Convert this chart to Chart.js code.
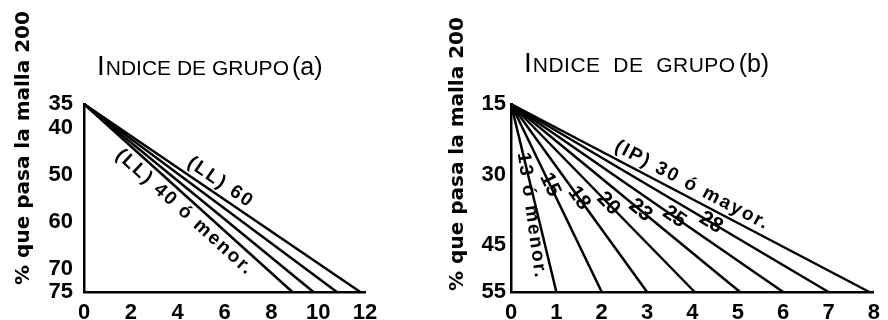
<!DOCTYPE html>
<html><head><meta charset="utf-8">
<script src="https://cdn.jsdelivr.net/npm/chart.js@4.4.0/dist/chart.umd.min.js"></script>
<style>
html,body{margin:0;padding:0;background:#fff;}
#wrap{position:relative;width:888px;height:320px;background:#fff;}
.box{position:absolute;top:0;width:444px;height:320px;}
#ba{left:0}
#bb{left:444px}
</style></head><body>
<div id="wrap"><div class="box" id="ba"><canvas id="ca"></canvas></div><div class="box" id="bb"><canvas id="cb"></canvas></div></div>
<script>
// ---------- Panel (a): Indice de grupo (a) ----------
const xTicksA = [0, 2, 4, 6, 8, 10, 12];
const yTicksA = [35, 40, 50, 60, 70, 75];
const startA = 35;            // % passing No.200 where all lines start (x = 0)
const endYA = 75;             // % passing No.200 where lines reach the index axis
const endsA = [8.9, 9.8, 10.8, 11.8];   // index value reached at 75 %
const namesA = ['(LL) 40 ó menor.', '(LL) 45', '(LL) 50', '(LL) 60'];

// ---------- Panel (b): Indice de grupo (b) ----------
const xTicksB = [0, 1, 2, 3, 4, 5, 6, 7, 8];
const yTicksB = [15, 30, 45, 55];
const startB = 15;
const endYB = 55;
const endsB = [1, 2, 3, 4.05, 5.05, 6, 7, 7.9];
const namesB = ['13 ó menor.', '15', '18', '20', '23', '25', '28', '(IP) 30 ó mayor.'];

const BLACK = '#000';
const tickFont = {family: 'Liberation Sans', size: 22, weight: 'bold'};

function makeDatasets(ends, y0, y1, names) {
  return ends.map((e, i) => ({
    label: names[i],
    data: [{x: 0, y: y0}, {x: e, y: y1}],
    borderColor: BLACK,
    borderWidth: 2.5,
    pointRadius: 0,
    fill: false,
    tension: 0,
    clip: 6
  }));
}

const decor = {
  id: 'decor',
  afterDatasetsDraw(chart, args, opts) {
    const ctx = chart.ctx;
    ctx.save();
    ctx.fillStyle = BLACK;
    // labels along the lines
    for (const it of opts.labels) {
      const meta = chart.getDatasetMeta(it.ds);
      const p0 = meta.data[0], p1 = meta.data[1];
      const ang = Math.atan2(p1.y - p0.y, p1.x - p0.x);
      const px = p0.x + it.t * (p1.x - p0.x);
      const py = p0.y + it.t * (p1.y - p0.y);
      const cx = px + it.off * Math.sin(ang);
      const cy = py - it.off * Math.cos(ang);
      ctx.save();
      ctx.translate(cx, cy);
      ctx.rotate(it.angle != null ? it.angle * Math.PI / 180 : ang);
      ctx.font = it.font || opts.labelFont;
      ctx.letterSpacing = it.spacing || opts.labelSpacing;
      ctx.textAlign = 'center';
      ctx.textBaseline = 'middle';
      ctx.fillText(it.text, 0, 0);
      ctx.restore();
    }
    // panel title
    let x = opts.title.x;
    for (const p of opts.title.parts) {
      ctx.font = p.font;
      ctx.letterSpacing = p.spacing || '0px';
      ctx.textAlign = 'left';
      ctx.textBaseline = 'alphabetic';
      ctx.fillText(p.text, x, opts.title.y);
      x += ctx.measureText(p.text).width + (p.gap || 0);
    }
    // vertical axis title
    ctx.save();
    ctx.translate(opts.ytitle.cx, opts.ytitle.cy);
    ctx.rotate(-Math.PI / 2);
    ctx.font = opts.ytitle.font;
    ctx.letterSpacing = '0px';
    ctx.textAlign = 'center';
    ctx.textBaseline = 'middle';
    ctx.fillText(opts.ytitle.text, 0, 0);
    ctx.restore();
    ctx.restore();
  }
};

function axisX(min, max, ticks, pad) {
  return {
    type: 'linear', min: min, max: max,
    afterBuildTicks: s => { s.ticks = ticks.map(v => ({value: v})); },
    afterFit: s => { s.height = 28; },
    grid: {display: false, drawTicks: false},
    border: {display: true, color: BLACK, width: 2.5},
    ticks: {color: BLACK, font: tickFont, padding: pad, autoSkip: false, maxRotation: 0, minRotation: 0}
  };
}
function axisY(min, max, ticks, pad, width) {
  return {
    type: 'linear', min: min, max: max, reverse: true,
    afterBuildTicks: s => { s.ticks = ticks.map(v => ({value: v})); },
    afterFit: s => { s.width = width; },
    grid: {display: false, drawTicks: false},
    border: {display: true, color: BLACK, width: 2.5},
    ticks: {color: BLACK, font: tickFont, padding: pad, autoSkip: false}
  };
}

const commonPlugins = {legend: {display: false}, tooltip: {enabled: false}, title: {display: false}};
const numFont = 'bold 21px "Liberation Sans"';

new Chart(document.getElementById('ca'), {
  type: 'line',
  data: {datasets: makeDatasets(endsA, startA, endYA, namesA)},
  options: {
    responsive: true, maintainAspectRatio: false, animation: false,
    layout: {padding: {left: 0, top: 104, right: 79, bottom: 0}},
    scales: {x: axisX(0, 12, xTicksA, 8), y: axisY(35, 75, yTicksA, 11, 84)},
    plugins: Object.assign({}, commonPlugins, {
      decor: {
        labelFont: 'bold 19px "Liberation Sans"',
        labelSpacing: '2px',
        labels: [
          {ds: 3, t: 0.47, off: 12, text: namesA[3]},
          {ds: 0, t: 0.525, off: -13, text: namesA[0]}
        ],
        title: {x: 97, y: 75, parts: [
          {text: 'I', font: '28px "Liberation Sans"', gap: 1},
          {text: 'NDICE DE GRUPO', font: '21px "Liberation Sans"', spacing: '0px', gap: 3},
          {text: '(a)', font: '25px "Liberation Sans"'}
        ]},
        ytitle: {text: '% que pasa la malla 200', cx: 24, cy: 148, font: 'bold 20px "DejaVu Sans"'}
      }
    })
  },
  plugins: [decor]
});

new Chart(document.getElementById('cb'), {
  type: 'line',
  data: {datasets: makeDatasets(endsB, startB, endYB, namesB)},
  options: {
    responsive: true, maintainAspectRatio: false, animation: false,
    layout: {padding: {left: 0, top: 104, right: 11, bottom: 0}},
    scales: {x: axisX(0, 8, xTicksB, 8), y: axisY(15, 55, yTicksB, 5, 67)},
    plugins: Object.assign({}, commonPlugins, {
      decor: {
        labelFont: 'bold 19px "Liberation Sans"',
        labelSpacing: '2px',
        labels: [
          {ds: 7, t: 0.49, off: 12, text: namesB[7]},
          {ds: 6, t: 0.63, off: 0, text: namesB[6], font: numFont, spacing: '0px'},
          {ds: 5, t: 0.60, off: 0, text: namesB[5], font: numFont, spacing: '0px'},
          {ds: 4, t: 0.565, off: 0, text: namesB[4], font: numFont, spacing: '0px'},
          {ds: 3, t: 0.53, off: 0, text: namesB[3], font: numFont, spacing: '0px'},
          {ds: 2, t: 0.50, off: 0, text: namesB[2], font: numFont, spacing: '0px'},
          {ds: 1, t: 0.43, off: 0, text: namesB[1], font: numFont, spacing: '0px'},
          {ds: 0, t: 0.587, off: -6, angle: 82, text: namesB[0]}
        ],
        title: {x: 80, y: 72, parts: [
          {text: 'I', font: '28px "Liberation Sans"', gap: 1},
          {text: 'NDICE  DE  GRUPO', font: '21px "Liberation Sans"', spacing: '0.5px', gap: 3},
          {text: '(b)', font: '25px "Liberation Sans"'}
        ]},
        ytitle: {text: '% que pasa la malla 200', cx: 14, cy: 154, font: 'bold 20px "DejaVu Sans"'}
      }
    })
  },
  plugins: [decor]
});
</script>
</body></html>
